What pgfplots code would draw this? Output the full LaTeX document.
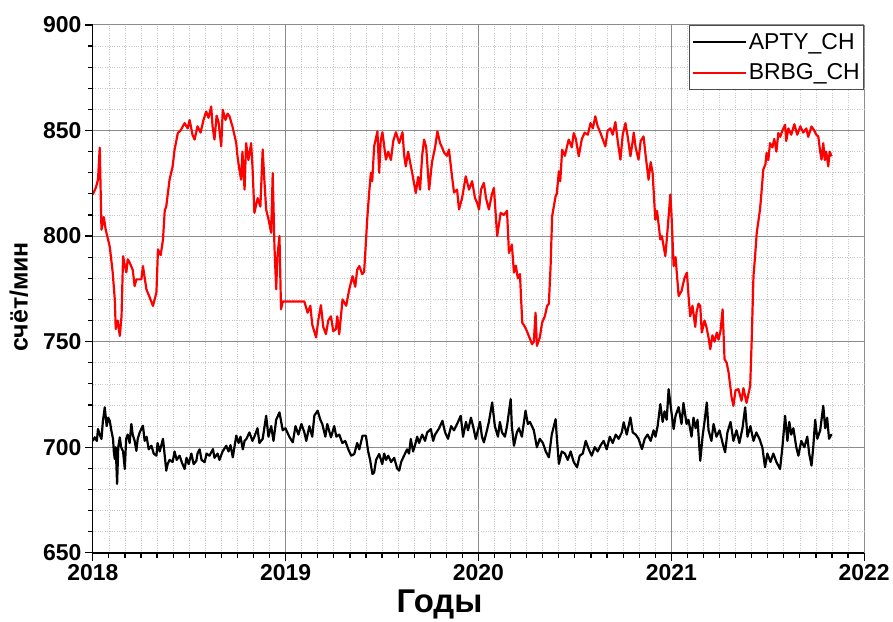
\documentclass[border=0pt]{standalone}
\usepackage{pgfplots}
\pgfplotsset{compat=1.18}
\usepackage{fontspec}
\setmainfont{Liberation Sans}

% APTY_CH count rate, counts per minute
\pgfplotstableread{
t y
2018.000 703.0
2018.010 704.7
2018.021 703.0
2018.027 708.6
2018.036 706.0
2018.045 703.9
2018.052 712.0
2018.062 718.9
2018.072 710.0
2018.080 714.0
2018.088 712.5
2018.096 708.0
2018.105 703.9
2018.109 698.0
2018.114 694.4
2018.119 700.0
2018.126 682.6
2018.132 700.0
2018.140 704.7
2018.147 700.0
2018.157 698.0
2018.166 689.7
2018.173 704.0
2018.181 706.0
2018.191 702.0
2018.200 711.0
2018.207 706.0
2018.217 703.0
2018.226 698.3
2018.233 704.0
2018.243 707.0
2018.260 710.2
2018.269 703.0
2018.279 705.0
2018.290 699.0
2018.304 700.7
2018.316 697.0
2018.330 696.0
2018.336 702.0
2018.347 698.0
2018.364 704.0
2018.373 696.0
2018.381 688.9
2018.388 692.0
2018.398 694.0
2018.414 693.0
2018.424 698.0
2018.435 694.0
2018.450 696.0
2018.461 693.0
2018.476 689.7
2018.486 695.0
2018.497 692.0
2018.511 697.0
2018.523 692.0
2018.537 693.6
2018.543 697.0
2018.554 699.0
2018.564 694.0
2018.580 692.9
2018.590 697.0
2018.605 696.0
2018.623 699.1
2018.631 695.0
2018.647 697.0
2018.657 694.0
2018.673 698.0
2018.692 700.7
2018.704 698.0
2018.714 701.0
2018.726 695.2
2018.744 705.5
2018.756 702.0
2018.766 705.0
2018.778 699.0
2018.787 703.0
2018.797 704.0
2018.812 707.0
2018.828 703.0
2018.838 705.0
2018.854 709.0
2018.864 702.0
2018.881 704.0
2018.899 714.9
2018.911 705.0
2018.925 710.0
2018.937 703.0
2018.951 713.0
2018.968 716.5
2018.985 708.0
2018.999 709.0
2019.019 705.0
2019.037 702.3
2019.051 710.0
2019.066 706.0
2019.082 711.0
2019.097 707.0
2019.107 703.0
2019.123 710.0
2019.138 705.0
2019.149 715.0
2019.166 717.3
2019.180 713.0
2019.190 711.0
2019.206 705.0
2019.216 711.0
2019.235 704.7
2019.252 710.0
2019.263 705.0
2019.278 706.0
2019.294 702.0
2019.309 703.0
2019.325 699.0
2019.340 696.0
2019.356 696.8
2019.371 702.0
2019.382 699.0
2019.399 705.5
2019.416 705.5
2019.428 698.0
2019.438 694.0
2019.450 687.3
2019.459 688.1
2019.469 694.0
2019.485 696.8
2019.501 692.0
2019.511 697.0
2019.521 694.0
2019.532 696.0
2019.547 693.0
2019.563 695.0
2019.578 690.0
2019.589 688.9
2019.599 693.0
2019.614 696.0
2019.630 699.0
2019.640 697.0
2019.649 703.9
2019.661 698.0
2019.671 701.0
2019.682 705.0
2019.692 702.0
2019.708 706.0
2019.723 703.0
2019.734 707.0
2019.753 708.6
2019.765 703.0
2019.775 706.0
2019.796 709.0
2019.813 712.5
2019.827 707.0
2019.842 704.0
2019.858 710.0
2019.873 708.0
2019.889 711.0
2019.908 714.9
2019.920 705.0
2019.935 712.0
2019.946 708.0
2019.961 714.0
2019.972 710.0
2019.986 703.9
2019.997 708.0
2020.008 712.0
2020.018 705.0
2020.028 702.3
2020.044 708.0
2020.054 712.0
2020.071 721.2
2020.085 710.0
2020.101 705.0
2020.111 712.0
2020.122 707.0
2020.137 705.0
2020.148 710.0
2020.167 722.8
2020.173 710.0
2020.184 700.7
2020.199 707.0
2020.210 709.0
2020.225 705.0
2020.244 717.3
2020.256 711.0
2020.267 712.0
2020.287 708.0
2020.303 700.0
2020.318 704.0
2020.334 702.0
2020.349 698.0
2020.365 695.2
2020.380 706.0
2020.400 713.3
2020.406 705.0
2020.417 692.1
2020.432 698.0
2020.448 697.0
2020.463 694.0
2020.478 698.0
2020.494 693.0
2020.511 690.5
2020.525 696.0
2020.541 697.0
2020.556 703.0
2020.572 699.0
2020.587 696.0
2020.603 700.0
2020.618 698.0
2020.634 701.0
2020.649 703.0
2020.665 699.0
2020.681 705.0
2020.696 702.0
2020.712 706.0
2020.727 704.0
2020.743 707.0
2020.753 711.8
2020.769 706.0
2020.788 714.1
2020.800 707.0
2020.815 706.0
2020.830 704.0
2020.848 699.1
2020.862 704.0
2020.877 706.0
2020.893 703.0
2020.908 708.0
2020.918 705.0
2020.929 710.0
2020.943 720.4
2020.955 712.0
2020.965 717.0
2020.976 713.0
2020.986 727.5
2020.996 720.0
2021.012 708.6
2021.022 715.0
2021.038 719.0
2021.053 711.0
2021.063 721.0
2021.079 711.0
2021.089 713.0
2021.105 705.0
2021.115 714.0
2021.126 709.0
2021.136 713.0
2021.150 693.6
2021.162 705.0
2021.172 712.0
2021.184 721.2
2021.193 708.0
2021.208 703.0
2021.219 711.0
2021.234 705.0
2021.250 708.0
2021.266 702.0
2021.279 697.6
2021.291 707.0
2021.307 712.0
2021.322 703.0
2021.338 708.0
2021.353 702.0
2021.369 709.0
2021.383 718.9
2021.395 705.0
2021.410 710.0
2021.426 703.0
2021.441 707.0
2021.457 704.0
2021.472 700.0
2021.486 690.5
2021.498 697.0
2021.514 693.0
2021.529 697.0
2021.545 693.0
2021.564 689.7
2021.576 700.0
2021.590 714.9
2021.602 703.0
2021.612 712.0
2021.622 706.0
2021.633 709.0
2021.648 700.0
2021.659 696.0
2021.674 703.0
2021.690 700.0
2021.705 705.0
2021.715 697.0
2021.727 691.3
2021.736 700.0
2021.746 713.0
2021.757 704.0
2021.772 708.0
2021.788 719.6
2021.798 709.0
2021.808 714.0
2021.818 704.0
2021.831 706.2
}\aptyTable

% BRBG_CH count rate, counts per minute
\pgfplotstableread{
t y
2018.000 819.7
2018.016 823.0
2018.027 826.7
2018.036 841.9
2018.045 803.0
2018.057 809.0
2018.067 803.0
2018.088 795.0
2018.103 783.0
2018.114 770.0
2018.119 756.0
2018.129 760.0
2018.140 752.7
2018.149 762.0
2018.157 790.5
2018.166 786.0
2018.174 782.8
2018.181 789.0
2018.191 787.5
2018.207 784.0
2018.217 776.3
2018.226 779.5
2018.252 779.5
2018.260 785.8
2018.278 774.8
2018.295 771.0
2018.312 766.9
2018.330 773.3
2018.338 793.7
2018.352 791.0
2018.364 798.4
2018.373 812.0
2018.381 814.1
2018.398 826.7
2018.414 833.0
2018.424 840.9
2018.441 848.8
2018.455 850.0
2018.476 853.5
2018.492 851.0
2018.502 855.0
2018.517 848.0
2018.528 845.7
2018.543 852.0
2018.559 849.0
2018.574 855.0
2018.588 859.0
2018.600 856.0
2018.614 861.4
2018.621 852.0
2018.631 845.7
2018.642 857.0
2018.652 854.0
2018.666 842.5
2018.674 859.8
2018.688 855.0
2018.699 858.0
2018.709 856.7
2018.724 852.0
2018.744 844.0
2018.750 838.0
2018.761 831.0
2018.769 826.7
2018.776 840.0
2018.787 822.0
2018.795 844.0
2018.807 836.0
2018.821 844.0
2018.828 833.0
2018.838 811.0
2018.855 818.0
2018.869 814.0
2018.881 841.0
2018.890 826.0
2018.899 812.6
2018.911 808.0
2018.925 801.6
2018.933 829.9
2018.942 795.0
2018.951 774.8
2018.957 790.0
2018.968 800.0
2018.976 765.3
2018.985 769.0
2019.097 769.0
2019.114 763.7
2019.128 767.0
2019.138 758.0
2019.158 752.0
2019.169 760.0
2019.183 767.3
2019.195 757.0
2019.209 753.6
2019.221 760.0
2019.235 762.0
2019.247 755.0
2019.261 756.0
2019.268 762.0
2019.278 753.5
2019.295 770.0
2019.314 767.0
2019.330 774.8
2019.347 781.0
2019.361 776.0
2019.371 784.0
2019.382 785.8
2019.397 782.0
2019.407 783.0
2019.416 796.8
2019.423 808.0
2019.433 820.4
2019.442 830.0
2019.449 826.0
2019.459 842.5
2019.476 849.6
2019.485 830.0
2019.493 845.0
2019.502 849.2
2019.520 836.2
2019.532 840.0
2019.546 836.0
2019.558 845.0
2019.572 849.2
2019.589 844.0
2019.606 849.2
2019.615 838.0
2019.623 833.0
2019.635 840.0
2019.656 830.0
2019.675 820.4
2019.687 828.0
2019.697 822.0
2019.708 838.0
2019.718 845.7
2019.729 842.0
2019.744 822.0
2019.759 835.0
2019.775 842.0
2019.787 849.6
2019.801 844.0
2019.811 842.0
2019.822 839.5
2019.837 838.0
2019.847 841.0
2019.858 832.0
2019.873 820.6
2019.889 822.0
2019.899 812.6
2019.915 818.0
2019.934 828.3
2019.951 822.0
2019.967 826.0
2019.982 818.0
2019.992 816.0
2020.003 812.6
2020.013 822.0
2020.028 825.2
2020.039 818.0
2020.054 812.6
2020.070 820.0
2020.080 822.8
2020.097 800.0
2020.115 811.0
2020.132 810.0
2020.148 812.0
2020.158 792.0
2020.173 796.0
2020.184 782.7
2020.194 786.0
2020.204 780.0
2020.215 782.0
2020.227 759.0
2020.241 757.0
2020.251 755.0
2020.261 752.7
2020.278 748.8
2020.287 750.0
2020.296 763.7
2020.303 748.0
2020.318 752.0
2020.330 759.0
2020.344 762.0
2020.356 766.9
2020.365 768.0
2020.374 785.8
2020.382 809.4
2020.400 818.9
2020.406 820.0
2020.417 830.7
2020.424 826.0
2020.434 840.9
2020.448 838.0
2020.458 842.0
2020.468 845.7
2020.484 842.0
2020.494 848.8
2020.505 846.0
2020.520 837.8
2020.536 846.0
2020.551 849.0
2020.567 848.0
2020.581 853.5
2020.593 851.0
2020.606 856.7
2020.618 852.0
2020.632 849.0
2020.644 846.0
2020.658 842.5
2020.670 850.0
2020.684 851.0
2020.696 848.0
2020.710 854.0
2020.722 845.0
2020.736 836.2
2020.748 848.0
2020.762 853.5
2020.774 847.0
2020.788 837.8
2020.800 845.0
2020.805 849.0
2020.815 842.0
2020.830 836.2
2020.841 845.0
2020.856 847.2
2020.867 838.0
2020.882 826.7
2020.893 835.0
2020.903 830.0
2020.917 807.8
2020.926 812.0
2020.943 798.4
2020.951 800.0
2020.969 790.5
2020.978 800.0
2020.986 809.4
2020.995 819.7
2021.001 810.0
2021.012 785.8
2021.022 790.0
2021.038 771.6
2021.053 774.0
2021.068 780.0
2021.081 782.7
2021.089 772.0
2021.098 762.0
2021.110 767.0
2021.124 757.0
2021.131 764.0
2021.141 768.0
2021.150 766.9
2021.158 754.3
2021.172 760.0
2021.182 757.0
2021.193 752.0
2021.202 746.4
2021.213 753.0
2021.224 750.0
2021.236 754.3
2021.245 751.0
2021.255 755.0
2021.266 765.3
2021.276 741.7
2021.287 740.0
2021.297 735.4
2021.307 728.0
2021.312 724.0
2021.322 719.6
2021.333 727.0
2021.348 727.5
2021.364 722.0
2021.374 728.0
2021.390 721.0
2021.409 729.1
2021.417 751.1
2021.426 781.0
2021.434 790.0
2021.443 801.6
2021.460 812.6
2021.467 820.0
2021.477 831.5
2021.488 834.0
2021.494 839.4
2021.503 836.0
2021.512 844.0
2021.524 842.0
2021.534 846.0
2021.545 840.0
2021.555 848.8
2021.565 847.0
2021.576 850.0
2021.590 852.7
2021.596 845.0
2021.607 851.0
2021.622 848.0
2021.638 853.0
2021.653 848.0
2021.669 852.0
2021.684 849.0
2021.700 851.0
2021.710 847.0
2021.727 851.9
2021.741 850.0
2021.752 848.0
2021.762 847.2
2021.772 840.0
2021.779 836.2
2021.788 844.0
2021.796 836.0
2021.803 840.0
2021.814 833.0
2021.821 840.0
2021.831 837.8
}\brbgTable

\begin{document}
\begin{tikzpicture}
\begin{axis}[
  name=ax,
  scale only axis,
  width=773pt, height=529pt,
  xmin=2018, xmax=2022, ymin=650, ymax=900,
  axis lines=left,
  axis line style={line width=1.4pt, -},
  xtick={2018,2019,2020,2021,2022},
  ytick={650,700,750,800,850,900},
  minor x tick num=11, minor y tick num=4,
  tick align=outside,
  major tick length=8pt, minor tick length=5pt,
  every tick/.style={black, line width=1.2pt},
  grid=both,
  major grid style={black!45, line width=0.9pt},
  minor grid style={black!22, dotted, line width=0.7pt},
  /pgf/number format/assume math mode=true,
  x tick label style={/pgf/number format/1000 sep={}},
  tick label style={font=\fontsize{23}{26}\selectfont\bfseries},
  xlabel={Годы},
  ylabel={счёт/мин},
  xlabel style={font=\fontsize{33}{36}\selectfont\bfseries, xshift=-39pt},
  xlabel shift=2pt,
  ylabel style={font=\fontsize{25}{28}\selectfont\bfseries, at={(ticklabel cs:0.485)}},
  ylabel shift=8pt,
  legend style={at={(1,1)}, anchor=north east, draw=black!70, line width=0.9pt,
    font=\fontsize{23}{26}\selectfont, row sep=9pt, inner xsep=2pt, inner ysep=6pt},
  legend cell align=left,
  legend image code/.code={\draw[#1, line width=2.2pt] (0pt,0pt) -- (53pt,0pt);},
]
\addplot[black, line width=2.2pt, line join=round] table[x=t, y=y] {\aptyTable};
\addlegendentry{APTY\_CH}
\addplot[red, line width=2.2pt, line join=round] table[x=t, y=y] {\brbgTable};
\addlegendentry{BRBG\_CH}
\end{axis}
\path (ax.south west) ++(-93pt,-67pt);
\path (ax.north east) ++(27pt,25pt);
\end{tikzpicture}
\end{document}
